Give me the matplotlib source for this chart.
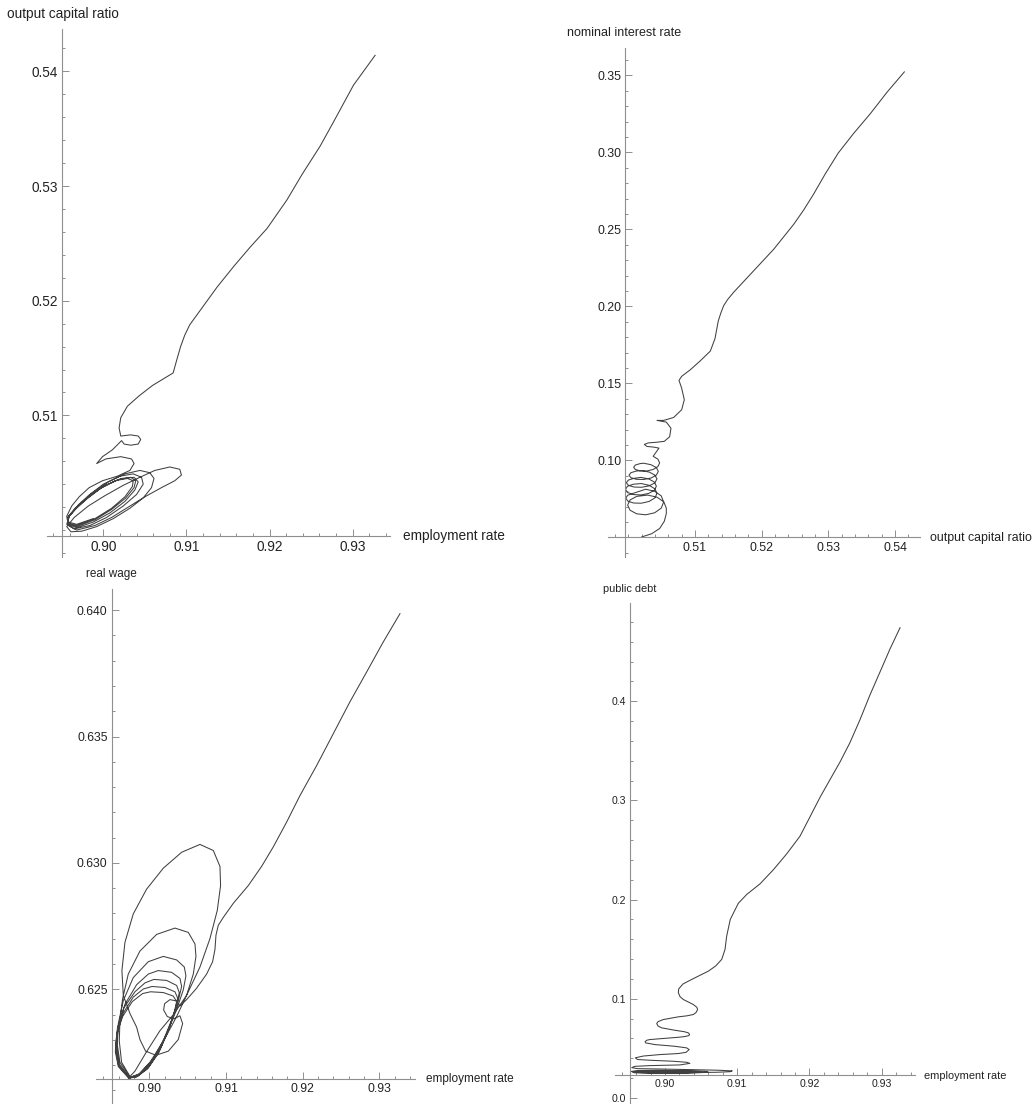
import matplotlib.pyplot as plt
from matplotlib.ticker import FixedLocator, MultipleLocator, FormatStrFormatter

plt.rcParams['font.family'] = ['Liberation Sans', 'DejaVu Sans']

AXIS_GREY = '#8f8f8f'
LINE_GREY = '#404040'
TEXT = '#222222'

# ---------------- top left: employment rate / output capital ratio ----------------
tl_main = [(0.9327, 0.5414), (0.9301, 0.5388), (0.9277, 0.5356), (0.9261, 0.5335), (0.9239, 0.5310),
           (0.9221, 0.5288), (0.9197, 0.5263), (0.9177, 0.5247), (0.9157, 0.5230), (0.9137, 0.5212),
           (0.9116, 0.5191), (0.9104, 0.5179), (0.9098, 0.5170), (0.9093, 0.5160), (0.9089, 0.5150),
           (0.9086, 0.5142), (0.9084, 0.5137), (0.9075, 0.5133), (0.9059, 0.5126), (0.9043, 0.5117),
           (0.9029, 0.5108), (0.9021, 0.5098), (0.9019, 0.5089), (0.9021, 0.5082)]
tl_spiral = [(0.9033, 0.5083), (0.9042, 0.5082), (0.9045, 0.5079), (0.9042, 0.5075), (0.9033, 0.5074),
             (0.9025, 0.5075), (0.9022, 0.5078),
             (0.9011, 0.5070), (0.8999, 0.5064), (0.8992, 0.5058),
             (0.9003, 0.5062), (0.9021, 0.5064), (0.9034, 0.5062), (0.9037, 0.5058), (0.9032, 0.5052),
             (0.9017, 0.5047), (0.8999, 0.5043), (0.8983, 0.5037), (0.8971, 0.5029), (0.8962, 0.5021),
             (0.8956, 0.5012), (0.8958, 0.5004), (0.8968, 0.5000),
             (0.8990, 0.5004), (0.9010, 0.5011), (0.9030, 0.5020), (0.9050, 0.5029), (0.9070, 0.5037),
             (0.9086, 0.5043), (0.9094, 0.5048), (0.9092, 0.5053), (0.9080, 0.5055), (0.9062, 0.5052),
             (0.9044, 0.5046), (0.9024, 0.5039), (0.9002, 0.5030), (0.8982, 0.5021), (0.8965, 0.5011),
             (0.8956, 0.5003), (0.8961, 0.49985), (0.8974, 0.4999),
             (0.8992, 0.5003), (0.9012, 0.5010), (0.9032, 0.5019), (0.9048, 0.5028), (0.9058, 0.5037),
             (0.9061, 0.5045), (0.9056, 0.5050), (0.9044, 0.5052), (0.9026, 0.5049), (0.9006, 0.5042),
             (0.8986, 0.5032), (0.8970, 0.5022), (0.8959, 0.5012), (0.8956, 0.5005), (0.8965, 0.5001),
             (0.8984, 0.5004), (0.9004, 0.5011), (0.9024, 0.5021), (0.9040, 0.5031), (0.9048, 0.5040),
             (0.9046, 0.5046), (0.9036, 0.5049), (0.9020, 0.5047), (0.9000, 0.5040), (0.8982, 0.5030),
             (0.8968, 0.5020), (0.8958, 0.5011), (0.8957, 0.5005), (0.8968, 0.5002),
             (0.8988, 0.5007), (0.9008, 0.5015), (0.9026, 0.5025), (0.9038, 0.5035), (0.9042, 0.5042),
             (0.9037, 0.5046), (0.9022, 0.5045), (0.9002, 0.5039), (0.8984, 0.5030), (0.8969, 0.5020),
             (0.8959, 0.5012), (0.8957, 0.5006), (0.8968, 0.5003),
             (0.8990, 0.5009), (0.9010, 0.5018), (0.9027, 0.5028), (0.9037, 0.5037), (0.9039, 0.5043),
             (0.9033, 0.5046), (0.9018, 0.5044), (0.8998, 0.5037), (0.8980, 0.5027), (0.8966, 0.5018),
             (0.8957, 0.5011), (0.8957, 0.5006), (0.8968, 0.5004),
             (0.8990, 0.5010), (0.9010, 0.5019), (0.9026, 0.5029), (0.9035, 0.5038), (0.9036, 0.5043),
             (0.9029, 0.5045), (0.9014, 0.5043), (0.8996, 0.5036), (0.8979, 0.5027), (0.8966, 0.5019),
             (0.8958, 0.5012), (0.8958, 0.5007), (0.8968, 0.5005), (0.8988, 0.5010)]

# ---------------- top right: output capital ratio / nominal interest rate ----------------
tr_main = [(0.5414, 0.3523), (0.5388, 0.3391), (0.5363, 0.3252), (0.5338, 0.3124), (0.5315, 0.2997),
           (0.5295, 0.2858), (0.5278, 0.2730), (0.5263, 0.2626), (0.5248, 0.2533), (0.5233, 0.2452),
           (0.5218, 0.2371), (0.5198, 0.2278), (0.5178, 0.2185), (0.5158, 0.2092), (0.5149, 0.2045),
           (0.5143, 0.2005), (0.5139, 0.1960), (0.5135, 0.1907), (0.5130, 0.1791), (0.5123, 0.1710),
           (0.5107, 0.1643), (0.5093, 0.1589), (0.5080, 0.1546), (0.5076, 0.1520), (0.5080, 0.1470),
           (0.5084, 0.1394), (0.5080, 0.1329), (0.5068, 0.1279), (0.5053, 0.1260), (0.5043, 0.1260),
           (0.5057, 0.1249), (0.5064, 0.1209), (0.5062, 0.1154), (0.5054, 0.1124)]
tr_spiral = [(0.5042, 0.1118), (0.5030, 0.1114), (0.5024, 0.1104), (0.5028, 0.1091), (0.5039, 0.1086),
             (0.5046, 0.1080),
             (0.50373, 0.10271), (0.50444, 0.10083), (0.50470, 0.09843), (0.50444, 0.09603),
             (0.50373, 0.09414), (0.50275, 0.09315), (0.50178, 0.09319), (0.50106, 0.09413),
             (0.50080, 0.09558), (0.50106, 0.09703), (0.50178, 0.09796),
             (0.50230, 0.09820), (0.50340, 0.09724), (0.50421, 0.09535), (0.50450, 0.09291),
             (0.50421, 0.09048), (0.50340, 0.08858), (0.50230, 0.08763), (0.50120, 0.08776),
             (0.50039, 0.08883), (0.50010, 0.09044), (0.50039, 0.09205), (0.50120, 0.09312),
             (0.50200, 0.09340), (0.50315, 0.09243), (0.50399, 0.09049), (0.50430, 0.08799),
             (0.50399, 0.08548), (0.50315, 0.08354), (0.50200, 0.08258), (0.50085, 0.08273),
             (0.50001, 0.08387), (0.49970, 0.08556), (0.50001, 0.08726), (0.50085, 0.08839),
             (0.50188, 0.08900), (0.50305, 0.08803), (0.50390, 0.08598), (0.50421, 0.08330),
             (0.50390, 0.08063), (0.50305, 0.07857), (0.50188, 0.07760), (0.50072, 0.07787),
             (0.49986, 0.07923), (0.49958, 0.08120), (0.49986, 0.08318), (0.50072, 0.08453),
             (0.50195, 0.08500), (0.50313, 0.08384), (0.50399, 0.08155), (0.50430, 0.07861),
             (0.50399, 0.07568), (0.50313, 0.07339), (0.50195, 0.07223), (0.50078, 0.07236),
             (0.49992, 0.07363), (0.49962, 0.07554), (0.49992, 0.07745), (0.50078, 0.07871),
             (0.50260, 0.08130), (0.50395, 0.07999), (0.50494, 0.07698), (0.50530, 0.07300),
             (0.50494, 0.06902), (0.50395, 0.06601), (0.50260, 0.06470), (0.50125, 0.06535),
             (0.50026, 0.06768), (0.49990, 0.07100), (0.50026, 0.07432), (0.50125, 0.07666),
             (0.50290, 0.07750), (0.50430, 0.07616), (0.50533, 0.07308), (0.50570, 0.06900),
             (0.5057, 0.0655), (0.5054, 0.0605), (0.5047, 0.0558), (0.5035, 0.0524), (0.5020, 0.0503)]

# ---------------- bottom left: employment rate / real wage ----------------
bl_main = [(0.93270, 0.63986), (0.93052, 0.63874), (0.92835, 0.63755), (0.92617, 0.63637),
           (0.92400, 0.63511), (0.92183, 0.63385), (0.91965, 0.63266), (0.91791, 0.63161),
           (0.91617, 0.63063), (0.91465, 0.62986), (0.91291, 0.62910), (0.91096, 0.62840),
           (0.90965, 0.62784), (0.90900, 0.62753), (0.90870, 0.62714), (0.90857, 0.62658),
           (0.90826, 0.62609), (0.90748, 0.62560), (0.90617, 0.62504), (0.90487, 0.62459),
           (0.90400, 0.62434)]
bl_spiral = [(0.90348, 0.62454), (0.90270, 0.62459), (0.90200, 0.62443), (0.90187, 0.62418),
             (0.90235, 0.62392), (0.90322, 0.62383), (0.90400, 0.62395),
             (0.90435, 0.62364), (0.90378, 0.62301), (0.90248, 0.62255), (0.90087, 0.62239),
             (0.89952, 0.62255), (0.89878, 0.62301), (0.89835, 0.62350),
             (0.89748, 0.62404), (0.89661, 0.62476), (0.89643, 0.62574), (0.89683, 0.62686),
             (0.89791, 0.62798), (0.89965, 0.62896), (0.90183, 0.62979), (0.90422, 0.63042),
             (0.90661, 0.63073), (0.90835, 0.63049), (0.90922, 0.62986), (0.90930, 0.62910),
             (0.90887, 0.62812), (0.90791, 0.62700), (0.90661, 0.62588), (0.90487, 0.62476),
             (0.90313, 0.62399), (0.90139, 0.62336), (0.89965, 0.62253), (0.89813, 0.62176),
             (0.89748, 0.62155), (0.89639, 0.62211), (0.89609, 0.62294), (0.89617, 0.62378),
             (0.89652, 0.62462), (0.89726, 0.62560), (0.89878, 0.62651), (0.90096, 0.62717),
             (0.90335, 0.62742), (0.90509, 0.62725), (0.90596, 0.62679), (0.90609, 0.62630),
             (0.90574, 0.62560), (0.90487, 0.62476), (0.90357, 0.62392), (0.90183, 0.62294),
             (0.90009, 0.62211), (0.89857, 0.62162),
             (0.89748, 0.62152), (0.89617, 0.62211), (0.89583, 0.62280), (0.89596, 0.62364),
             (0.89661, 0.62455), (0.89791, 0.62546), (0.89987, 0.62609), (0.90183, 0.62630),
             (0.90357, 0.62616), (0.90457, 0.62588), (0.90478, 0.62553), (0.90443, 0.62497),
             (0.90357, 0.62420), (0.90226, 0.62322), (0.90052, 0.62225), (0.89878, 0.62166),
             (0.89739, 0.62150), (0.89609, 0.62204), (0.89574, 0.62274), (0.89596, 0.62357),
             (0.89683, 0.62441), (0.89835, 0.62518), (0.89987, 0.62560), (0.90117, 0.62574),
             (0.90291, 0.62567), (0.90400, 0.62543), (0.90422, 0.62511), (0.90378, 0.62455),
             (0.90291, 0.62378), (0.90161, 0.62280), (0.90009, 0.62204), (0.89857, 0.62159),
             (0.89739, 0.62149), (0.89604, 0.62199), (0.89565, 0.62267), (0.89583, 0.62343),
             (0.89670, 0.62427), (0.89813, 0.62490), (0.89943, 0.62525), (0.90061, 0.62539),
             (0.90226, 0.62535), (0.90357, 0.62515), (0.90391, 0.62487), (0.90357, 0.62434),
             (0.90270, 0.62357), (0.90148, 0.62267), (0.90000, 0.62197), (0.89848, 0.62156),
             (0.89735, 0.62149), (0.89600, 0.62197), (0.89561, 0.62260), (0.89578, 0.62329),
             (0.89661, 0.62406), (0.89791, 0.62469), (0.89922, 0.62501), (0.90035, 0.62511),
             (0.90204, 0.62507), (0.90335, 0.62490), (0.90370, 0.62465), (0.90335, 0.62413),
             (0.90248, 0.62339), (0.90130, 0.62255), (0.89987, 0.62190), (0.89843, 0.62155),
             (0.89730, 0.62149), (0.89596, 0.62194), (0.89557, 0.62253), (0.89574, 0.62320),
             (0.89652, 0.62392), (0.89778, 0.62451), (0.89913, 0.62483), (0.90017, 0.62490),
             (0.90183, 0.62487), (0.90313, 0.62473), (0.90357, 0.62451), (0.90322, 0.62404),
             (0.90239, 0.62329), (0.90122, 0.62248), (0.89978, 0.62185), (0.89835, 0.62153),
             (0.89730, 0.62148)]

# ---------------- bottom right: employment rate / public debt ----------------
br_main = [(0.93254, 0.47409), (0.93115, 0.45272), (0.92977, 0.42956), (0.92838, 0.40641),
           (0.92700, 0.38148), (0.92561, 0.35833), (0.92423, 0.33874), (0.92284, 0.32093),
           (0.92146, 0.30312), (0.92008, 0.28353), (0.91869, 0.26394), (0.91685, 0.24613),
           (0.91500, 0.23010), (0.91315, 0.21585), (0.91131, 0.20517), (0.91015, 0.19626),
           (0.90904, 0.18010), (0.90854, 0.16323), (0.90831, 0.14980), (0.90785, 0.13970),
           (0.90700, 0.13300), (0.90600, 0.12788), (0.90369, 0.11949), (0.90250, 0.11500),
           (0.90190, 0.11000), (0.90185, 0.10606), (0.90210, 0.10200), (0.90254, 0.09929)]
br_wiggle = [(0.90392, 0.09424), (0.90440, 0.09150), (0.90452, 0.08919), (0.90430, 0.08620),
             (0.90392, 0.08414), (0.90300, 0.08280), (0.90185, 0.08182), (0.89977, 0.07909),
             (0.89905, 0.07700), (0.89885, 0.07505), (0.89905, 0.07250), (0.89954, 0.07071),
             (0.90138, 0.06828), (0.90270, 0.06680), (0.90323, 0.06566), (0.90340, 0.06420),
             (0.90332, 0.06293), (0.90270, 0.06190), (0.90185, 0.06121), (0.89907, 0.05960),
             (0.89790, 0.05890), (0.89746, 0.05818), (0.89725, 0.05680), (0.89733, 0.05556),
             (0.89862, 0.05384), (0.90138, 0.05212), (0.90300, 0.05051), (0.90335, 0.04880),
             (0.90290, 0.04600), (0.90180, 0.04480), (0.89931, 0.04377), (0.89700, 0.04230),
             (0.89590, 0.04050), (0.89620, 0.03880), (0.89794, 0.03805), (0.90115, 0.03704),
             (0.90300, 0.03600), (0.90344, 0.03490), (0.90206, 0.03333), (0.89794, 0.03266),
             (0.89580, 0.03190), (0.89541, 0.03060), (0.89620, 0.02960), (0.89885, 0.02929),
             (0.90344, 0.02862), (0.90757, 0.02795), (0.90930, 0.02730), (0.90900, 0.02650),
             (0.90711, 0.02593), (0.90298, 0.02559), (0.89885, 0.02559), (0.89600, 0.02590),
             (0.89535, 0.02680), (0.89620, 0.02770), (0.89900, 0.02790), (0.90300, 0.02750),
             (0.90573, 0.02680), (0.90600, 0.02590), (0.90298, 0.02500), (0.89839, 0.02495),
             (0.89580, 0.02540), (0.89545, 0.02640), (0.89700, 0.02720), (0.90100, 0.02730),
             (0.90480, 0.02670), (0.90500, 0.02590), (0.90200, 0.02530), (0.89800, 0.02530),
             (0.89590, 0.02580), (0.89580, 0.02660), (0.89800, 0.02710), (0.90200, 0.02690),
             (0.90420, 0.02630)]

x_emp_ticks = [0.90, 0.91, 0.92, 0.93]
tl_y_ticks = [0.51, 0.52, 0.53, 0.54]
tr_x_ticks = [0.51, 0.52, 0.53, 0.54]
tr_y_ticks = [0.10, 0.15, 0.20, 0.25, 0.30, 0.35]
bl_y_ticks = [0.625, 0.630, 0.635, 0.640]
br_y_ticks = [0.0, 0.1, 0.2, 0.3, 0.4]


def setup_ax(fig, rect, xlim, ylim, origin, xticks, yticks, xminor, yminor, xfmt, yfmt, size):
    ax = fig.add_axes(rect)
    ax.set_xlim(xlim)
    ax.set_ylim(ylim)
    ax.patch.set_visible(False)
    ax.spines["top"].set_visible(False)
    ax.spines["right"].set_visible(False)
    ax.spines["left"].set_position(("data", origin[0]))
    ax.spines["bottom"].set_position(("data", origin[1]))
    for side in ("left", "bottom"):
        ax.spines[side].set_color(AXIS_GREY)
        ax.spines[side].set_linewidth(0.8)
    ax.xaxis.set_major_locator(FixedLocator(xticks))
    ax.yaxis.set_major_locator(FixedLocator(yticks))
    ax.xaxis.set_minor_locator(MultipleLocator(xminor))
    ax.yaxis.set_minor_locator(MultipleLocator(yminor))
    ax.xaxis.set_major_formatter(FormatStrFormatter(xfmt))
    ax.yaxis.set_major_formatter(FormatStrFormatter(yfmt))
    ax.tick_params(which="both", direction="in", color=AXIS_GREY, width=0.7,
                   labelsize=size, labelcolor=TEXT, pad=3)
    ax.tick_params(which="major", length=5)
    ax.tick_params(which="minor", length=2.5)
    return ax


def draw(ax, *parts):
    pts = [p for part in parts for p in part]
    ax.plot([p[0] for p in pts], [p[1] for p in pts], color=LINE_GREY, lw=0.75,
            solid_joinstyle="round", clip_on=False)


fig = plt.figure(figsize=(10.34, 11.04), dpi=100)

ax = setup_ax(fig, [0.04516, 0.49547, 0.33201, 0.47862], (0.89319, 0.93449), (0.49765, 0.54373),
              (0.89507, 0.49951), x_emp_ticks, tl_y_ticks, 0.002, 0.002, "%.2f", "%.2f", 9.8)
draw(ax, tl_main, tl_spiral)
fig.text(0.0070, 0.9877, "output capital ratio", fontsize=9.8, color=TEXT, ha="left", va="center")
fig.text(0.3897, 0.5148, "employment rate", fontsize=9.8, color=TEXT, ha="left", va="center")

ax = setup_ax(fig, [0.58830, 0.49547, 0.30145, 0.46087], (0.49700, 0.54375), (0.03730, 0.36770),
              (0.49955, 0.05000), tr_x_ticks, tr_y_ticks, 0.002, 0.01, "%.2f", "%.2f", 8.9)
draw(ax, tr_main, tr_spiral)
fig.text(0.5481, 0.9702, "nominal interest rate", fontsize=9.0, color=TEXT, ha="left", va="center")
fig.text(0.8990, 0.5131, "output capital ratio", fontsize=8.9, color=TEXT, ha="left", va="center")

ax = setup_ax(fig, [0.09284, 0.0, 0.30851, 0.46658], (0.89305, 0.93466), (0.62046, 0.64084),
              (0.8951, 0.62145), x_emp_ticks, bl_y_ticks, 0.002, 0.001, "%.2f", "%.3f", 8.8)
draw(ax, bl_main, bl_spiral)
fig.text(0.0832, 0.4801, "real wage", fontsize=8.5, color=TEXT, ha="left", va="center")
fig.text(0.4120, 0.0226, "employment rate", fontsize=8.5, color=TEXT, ha="left", va="center")

ax = setup_ax(fig, [0.59478, 0.0, 0.29014, 0.45380], (0.89308, 0.93461), (-0.00605, 0.49900),
              (0.89515, 0.0232), x_emp_ticks, br_y_ticks, 0.002, 0.02, "%.2f", "%.1f", 7.6)
draw(ax, br_main, br_wiggle)
fig.text(0.5835, 0.4665, "public debt", fontsize=7.9, color=TEXT, ha="left", va="center")
fig.text(0.8939, 0.0258, "employment rate", fontsize=7.9, color=TEXT, ha="left", va="center")

fig.savefig("out.png", dpi=100)
